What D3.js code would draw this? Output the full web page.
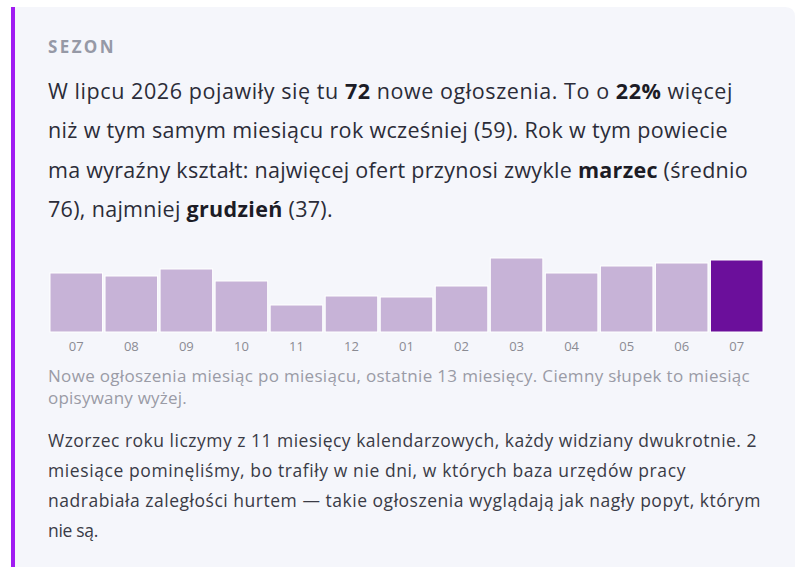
<!DOCTYPE html>
<html>
<head>
<meta charset="utf-8">
<script src="https://cdn.jsdelivr.net/npm/d3@7"></script>
<style>
  html, body { margin: 0; padding: 0; background: #fff; }
  svg { display: block; }
  text { font-family: "Open Sans", "Noto Sans", sans-serif; }
</style>
</head>
<body>
<svg id="card" width="800" height="567"></svg>
<script>
// months shown under the bars (last 13 months)
const months = ["07", "08", "09", "10", "11", "12", "01", "02", "03", "04", "05", "06", "07"];
// new job ads per month
const counts = [59, 56, 63, 51, 27, 36, 35, 46, 74, 59, 66, 69, 72];
const current = 12; // dark bar = month described in the text

const heading = "SEZON";
const lead = [
  [["W lipcu 2026 pojawiły się tu "], ["72", 1], [" nowe ogłoszenia. To o "], ["22%", 1], [" więcej"]],
  [["niż w tym samym miesiącu rok wcześniej (59). Rok w tym powiecie"]],
  [["ma wyraźny kształt: najwięcej ofert przynosi zwykle "], ["marzec", 1], [" (średnio"]],
  [["76), najmniej "], ["grudzień", 1], [" (37)."]]
];
const caption = [
  "Nowe ogłoszenia miesiąc po miesiącu, ostatnie 13 miesięcy. Ciemny słupek to miesiąc",
  "opisywany wyżej."
];
const note = [
  "Wzorzec roku liczymy z 11 miesięcy kalendarzowych, każdy widziany dwukrotnie. 2",
  "miesiące pominęliśmy, bo trafiły w nie dni, w których baza urzędów pracy",
  "nadrabiała zaległości hurtem — takie ogłoszenia wyglądają jak nagły popyt, którym",
  "nie są."
];

const svg = d3.select("#card");
const left = 48;

// stretch a text line so it ends where the original wrap ended
function fit(sel, right) {
  const node = sel.node();
  const len = node.getComputedTextLength();
  const n = node.textContent.length;
  sel.style("letter-spacing", ((right - left - len) / n) + "px");
}

// card background with rounded right corners
const cx = 11, cy = 7, cw = 784, r = 10;
svg.append("path")
  .attr("d", `M${cx},${cy} H${cx + cw - r} Q${cx + cw},${cy} ${cx + cw},${cy + r} V600 H${cx} Z`)
  .attr("fill", "#f5f6fb");
svg.append("rect")
  .attr("x", cx).attr("y", cy)
  .attr("width", 4).attr("height", 600)
  .attr("fill", "#a11cf2");

// heading
const h = svg.append("text")
  .attr("x", left).attr("y", 53)
  .style("font-size", "17px")
  .style("font-weight", "bold")
  .style("fill", "#9699a6")
  .text(heading);
fit(h, 116);

// lead paragraph
const leadY = [99, 138, 178, 217];
const leadEnd = [733, 728, 748, 333];
lead.forEach((line, i) => {
  const t = svg.append("text")
    .attr("x", left).attr("y", leadY[i])
    .style("font-size", "21.5px")
    .style("fill", "#2b2c38");
  line.forEach(seg => {
    t.append("tspan")
      .style("font-weight", seg[1] ? "bold" : "normal")
      .style("fill", seg[1] ? "#1c1c26" : null)
      .text(seg[0]);
  });
  fit(t, leadEnd[i]);
});

// bar chart
const x = d3.scaleBand()
  .domain(d3.range(counts.length))
  .range([50, 763])
  .paddingInner(0.045);

const y = d3.scaleLinear()
  .domain([0, d3.max(counts)])
  .range([332, 258]);

svg.append("g")
  .selectAll("rect")
  .data(counts)
  .enter()
  .append("rect")
  .attr("x", (d, i) => x(i))
  .attr("y", d => y(d))
  .attr("width", x.bandwidth())
  .attr("height", d => y(0) - y(d))
  .attr("fill", (d, i) => i === current ? "#6b0f9b" : "#c7b3d7")
  .attr("stroke", "#fff")
  .attr("stroke-width", 1);

const axis = svg.append("g")
  .attr("transform", `translate(0,${y(0)})`)
  .call(d3.axisBottom(x).tickSize(0).tickPadding(10).tickFormat(i => months[i]));
axis.select(".domain").remove();
axis.selectAll("text")
  .style("font-family", "'Open Sans', sans-serif")
  .style("font-size", "13px")
  .style("fill", "#8b8b93");

// caption under chart
const capEnd = [750, 187];
caption.forEach((s, i) => {
  const t = svg.append("text")
    .attr("x", left).attr("y", 382 + i * 21.5)
    .style("font-size", "17px")
    .style("fill", "#9a9ba6")
    .text(s);
  fit(t, capEnd[i]);
});

// method note
const noteEnd = [757, 686, 761, 98];
note.forEach((s, i) => {
  const t = svg.append("text")
    .attr("x", left).attr("y", 447 + i * 30)
    .style("font-size", "17.5px")
    .style("fill", "#3a3b46")
    .text(s);
  fit(t, noteEnd[i]);
});
</script>
</body>
</html>
